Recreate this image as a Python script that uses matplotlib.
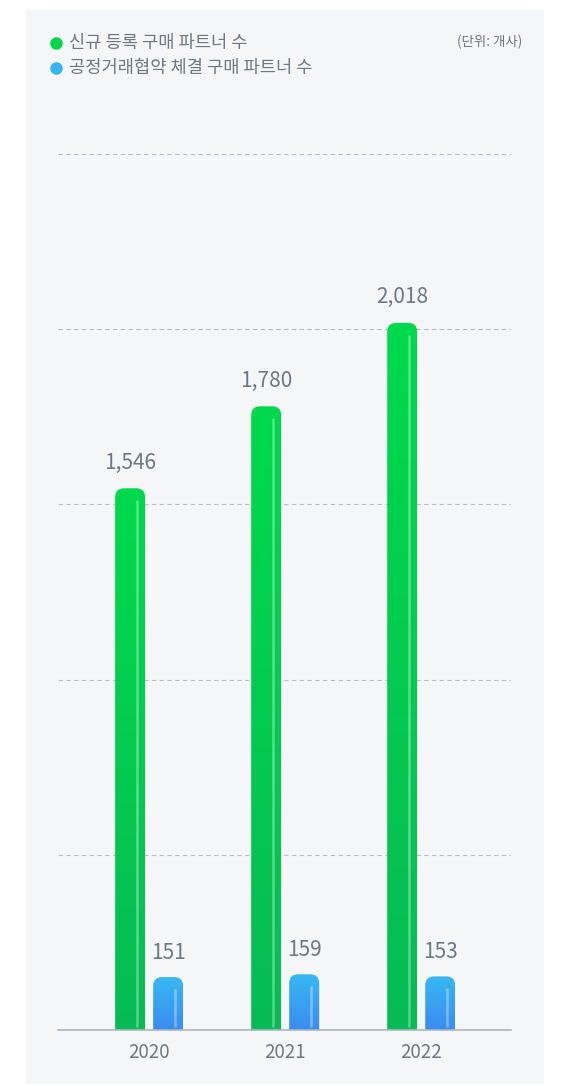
import numpy as np
import matplotlib
matplotlib.use('Agg')
import matplotlib.pyplot as plt
from matplotlib.patches import FancyBboxPatch, Rectangle
from matplotlib.lines import Line2D
from matplotlib.colors import LinearSegmentedColormap

plt.rcParams['font.family'] = ['Noto Sans CJK KR', 'DejaVu Sans']

years = ['2020', '2021', '2022']
new_partners = [1546, 1780, 2018]
agreement_partners = [151, 159, 153]
series_names = ['신규 등록 구매 파트너 수', '공정거래협약 체결 구매 파트너 수']
unit_text = '(단위: 개사)'

W, H = 575, 1086
text_gray = '#6e7882'
panel_bg = '#f4f6f8'
green_top, green_bot = '#00da4c', '#07bb55'
blue_top, blue_bot = '#38b8f2', '#3a8cef'

fig = plt.figure(figsize=(W / 100, H / 100), dpi=100, facecolor='white')
fig.add_artist(Rectangle((26 / W, 2 / H), 518 / W, 1074 / H, transform=fig.transFigure,
                         facecolor=panel_bg, edgecolor='none', zorder=-10))

ax_l, ax_r, ax_b, ax_t = 58, 511, 1030, 154
ax = fig.add_axes([ax_l / W, (H - ax_b) / H, (ax_r - ax_l) / W, (ax_b - ax_t) / H])
ax.set_facecolor('none')

xmin, xmax = -0.67, 2.66
ymin, ymax = 0, 2500
px_x = (ax_r - ax_l) / (xmax - xmin)
px_y = (ax_b - ax_t) / (ymax - ymin)

bar_w = 30 / px_x
off = 19 / px_x
radius = 9 / px_x
aspect = (9 / px_y) / radius


def gradient_bar(xc, val, ctop, cbot):
    x0 = xc - bar_w / 2
    patch = FancyBboxPatch((x0, -200), bar_w, val + 200,
                           boxstyle='round,pad=0,rounding_size=%f' % radius,
                           mutation_aspect=aspect, facecolor='none', edgecolor='none')
    ax.add_patch(patch)
    cmap = LinearSegmentedColormap.from_list('g', [cbot, ctop])
    grad = np.linspace(0, 1, 256).reshape(-1, 1)
    im = ax.imshow(grad, cmap=cmap, origin='lower', aspect='auto',
                   extent=(x0, x0 + bar_w, 0, val), zorder=2)
    im.set_clip_path(patch)
    # thin highlight stripe near the right edge
    hx = x0 + bar_w - 8 / px_x
    ax.plot([hx, hx], [3 / px_y, val - 12 / px_y], color='white', alpha=0.35,
            lw=1.8, solid_capstyle='butt', zorder=3)


for i, y in enumerate(years):
    gradient_bar(i - off, new_partners[i], green_top, green_bot)
    gradient_bar(i + off, agreement_partners[i], blue_top, blue_bot)
    ax.annotate('{:,}'.format(new_partners[i]), (i - off, new_partners[i]),
                xytext=(0, 14), textcoords='offset points', ha='center', va='baseline',
                fontsize=15, color=text_gray, fontweight='light')
    ax.annotate('{:,}'.format(agreement_partners[i]), (i + off, agreement_partners[i]),
                xytext=(0, 13), textcoords='offset points', ha='center', va='baseline',
                fontsize=15, color=text_gray, fontweight='light')

for g in range(500, 2501, 500):
    ax.axhline(g, color='#b3bec8', lw=0.8, ls=(0, (4, 3)), zorder=1)

ax.set_xlim(xmin, xmax)
ax.set_ylim(ymin, ymax)
ax.set_yticks([])
ax.set_xticks(range(len(years)))
ax.set_xticklabels(years, fontsize=13.5, color=text_gray, fontweight='light')
ax.tick_params(axis='x', length=0, pad=9)
for s in ['top', 'right', 'left']:
    ax.spines[s].set_visible(False)
ax.spines['bottom'].set_color('#a9b6c0')
ax.spines['bottom'].set_linewidth(1.2)

# legend
for k, (name, col) in enumerate(zip(series_names, ['#00d84c', '#36b4f2'])):
    yy = 1 - (43 + 25 * k) / H
    fig.add_artist(Line2D([56 / W], [yy], marker='o', markersize=9, color=col,
                          markeredgewidth=0, transform=fig.transFigure))
    fig.text(69 / W, yy, name, fontsize=12.7, color=text_gray, va='center', ha='left')

fig.text(522 / W, 1 - 42 / H, unit_text, fontsize=9.7, color=text_gray, va='center', ha='right')

fig.savefig('out.png', dpi=100, facecolor='white')
